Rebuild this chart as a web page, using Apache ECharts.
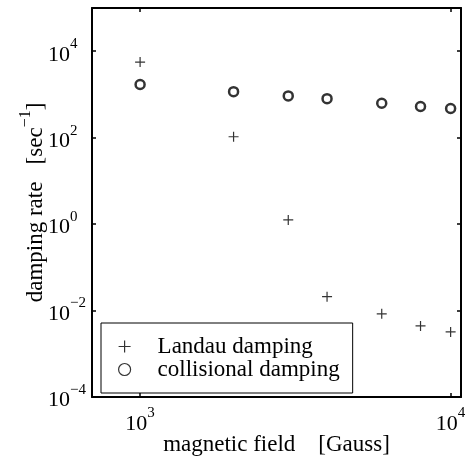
<!DOCTYPE html>
<html>
<head>
<meta charset="utf-8">
<script src="https://cdn.jsdelivr.net/npm/echarts@6/dist/echarts.min.js"></script>
<style>
  html, body { margin: 0; padding: 0; background: #fff; }
  #chart { width: 471px; height: 460px; }
</style>
</head>
<body>
<div id="chart"></div>
<script>
  // magnetic field [Gauss]
  const field = [1000, 2000, 3000, 4000, 6000, 8000, 10000];
  // damping rates [1/sec]
  const landau = [5600, 105, 1.25, 0.021, 0.0084, 0.0044, 0.0032];
  const collisional = [1700, 1160, 925, 800, 627, 525, 472];
  const seriesNames = ['Landau damping', 'collisional damping'];

  const plusPath = 'path://M0,5L10,5M5,0L5,10';
  const font = 'Liberation Serif';

  function pow10Label(v) {
    let e = Math.log10(v);
    if (Math.abs(e - Math.round(e)) > 1e-6) return '';
    e = Math.round(e);
    return '{b|10}{e|' + String(e).replace('-', '\u2212') + '}';
  }
  const labelRich = {
    b: { fontFamily: font, fontSize: 22, color: '#000', padding: [7, 0, 0, 0], verticalAlign: 'bottom' },
    e: { fontFamily: font, fontSize: 15, color: '#000', verticalAlign: 'top' }
  };

  const chart = echarts.init(document.getElementById('chart'));
  const frameLine = { show: true, lineStyle: { color: '#000', width: 2 } };
  const tick = { show: true, inside: true, length: 4, lineStyle: { color: '#000', width: 1.5 } };

  let option = {
    animation: false,
    backgroundColor: '#fff',
    grid: { left: 92, right: 10, top: 8, bottom: 63, outerBoundsMode: 'none' },
    xAxis: [{
      type: 'log',
      min: 700,
      max: 10800,
      position: 'bottom',
      axisLine: frameLine,
      axisTick: tick,
      splitLine: { show: false },
      minorTick: { show: false },
      axisLabel: {
        formatter: pow10Label,
        rich: labelRich,
        margin: 9,
        showMinLabel: false,
        showMaxLabel: false
      },
      name: 'magnetic field    [Gauss]',
      nameLocation: 'middle',
      nameGap: 36,
      nameMoveOverlap: false,
      nameTextStyle: { fontFamily: font, fontSize: 23, color: '#000' }
    }, {
      type: 'log',
      min: 700,
      max: 10800,
      position: 'top',
      axisLine: frameLine,
      axisTick: tick,
      splitLine: { show: false },
      axisLabel: { show: false }
    }],
    yAxis: [{
      type: 'log',
      min: 1e-4,
      max: 1e5,
      interval: 2,
      position: 'left',
      axisLine: frameLine,
      axisTick: tick,
      splitLine: { show: false },
      minorTick: { show: false },
      axisLabel: {
        formatter: pow10Label,
        rich: labelRich,
        margin: 44,
        align: 'left',
        showMinLabel: true,
        showMaxLabel: false
      },
      name: '{a|damping rate   [sec}{s|\u22121}{a|]}',
      nameLocation: 'middle',
      nameGap: 45,
      nameMoveOverlap: false,
      nameTextStyle: {
        rich: {
          a: { fontFamily: font, fontSize: 23, color: '#000', padding: [6, 0, 0, 0], verticalAlign: 'bottom' },
          s: { fontFamily: font, fontSize: 16, color: '#000', verticalAlign: 'top' }
        }
      }
    }, {
      type: 'log',
      min: 1e-4,
      max: 1e5,
      interval: 2,
      position: 'right',
      axisLine: frameLine,
      axisTick: tick,
      splitLine: { show: false },
      axisLabel: { show: false }
    }],
    legend: {
      left: 101,
      top: 323,
      orient: 'vertical',
      padding: [12, 13, 12, 17],
      itemGap: 0,
      itemWidth: 12,
      itemHeight: 12,
      borderColor: '#000',
      borderWidth: 1,
      borderRadius: 0,
      backgroundColor: '#fff',
      textStyle: { fontFamily: font, fontSize: 23, color: '#000', lineHeight: 20, padding: [0, 0, 0, 22] },
      data: [
        { name: seriesNames[0], icon: plusPath, itemStyle: { color: 'transparent', borderColor: '#000', borderWidth: 1.2 } },
        { name: seriesNames[1], icon: 'circle', itemStyle: { color: 'transparent', borderColor: '#000', borderWidth: 1.2 } }
      ]
    },
    series: [{
      name: seriesNames[0],
      type: 'scatter',
      symbol: plusPath,
      symbolSize: 10,
      itemStyle: { color: 'transparent', borderColor: '#000', borderWidth: 1.2 },
      data: field.map((x, i) => [x, landau[i]]),
      z: 3
    }, {
      name: seriesNames[1],
      type: 'scatter',
      symbol: 'circle',
      symbolSize: 9,
      itemStyle: { color: '#fff', borderColor: '#000', borderWidth: 2.5 },
      data: field.map((x, i) => [x, collisional[i]]),
      z: 3
    }]
  };
  chart.setOption(option);
</script>
</body>
</html>
